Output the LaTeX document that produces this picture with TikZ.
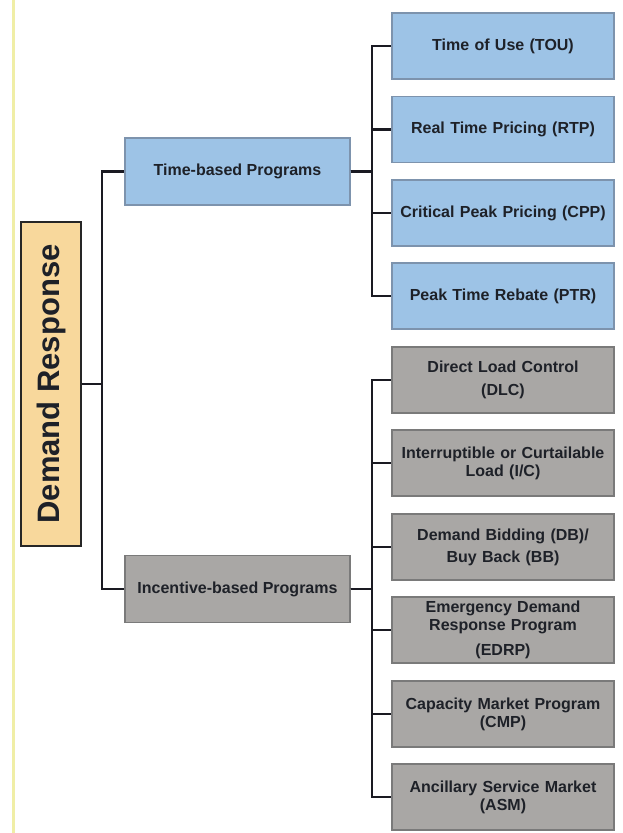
\documentclass[tikz,border=0pt]{standalone}
\usepackage{fontspec}
\setmainfont{Liberation Sans}
\usetikzlibrary{positioning,calc}
\definecolor{rootFill}{HTML}{F8D89C}
\definecolor{timeFill}{HTML}{9DC3E6}
\definecolor{incFill}{HTML}{A9A7A5}
\definecolor{timeLine}{HTML}{7D93AD}
\definecolor{incLine}{HTML}{7A7A7A}
\definecolor{linkLine}{HTML}{1A1A22}
\definecolor{edgeYellow}{HTML}{F0EEA6}
\definecolor{inkText}{HTML}{1E2128}

\begin{document}
\begin{tikzpicture}[x=1pt,y=-1pt,line width=1.3pt,
 prog/.style={minimum width=225pt,minimum height=67pt,inner sep=2pt,align=center,text=inkText,font=\fontsize{16}{18}\selectfont\bfseries},
 leaf/.style={prog,minimum width=222pt,minimum height=66pt,text width=210pt,inner xsep=6pt},
 link/.style={draw=linkLine,line width=2.2pt}]
\useasboundingbox (0,0) rectangle (623,833);
\draw[edgeYellow,line width=3pt] (13,0)--(13,833);
% root
\node[draw=black!85,line width=1.6pt,fill=rootFill,rotate=90,minimum width=324pt,minimum height=60pt,
 text=inkText,font=\fontsize{31}{31}\selectfont\bfseries] (dr) at (51,384) {Demand Response};
% program classes
\node[prog,draw=timeLine,fill=timeFill] (tbp) at (237.5,171.5) {Time-based Programs};
\node[prog,draw=incLine,fill=incFill] (ibp) at (237.5,589) {Incentive-based Programs};
% time-based leaves
\foreach \name/\yy/\lab in {tou/46/{Time of Use (TOU)},rtp/129.5/{Real Time Pricing (RTP)},
  cpp/213/{Critical Peak Pricing (CPP)},ptr/296/{Peak Time Rebate (PTR)}} {
 \node[leaf,draw=timeLine,fill=timeFill] (\name) at (503,\yy) {\lab};
 \draw[link] (tbp.east) -- ++(21,0) |- (\name.west);
}
% incentive-based leaves
\foreach \name/\yy/\lab in {dlc/380/{Direct Load Control\\[5pt](DLC)},
  ic/463/{Interruptible or Curtailable\\Load (I/C)},
  dbb/547/{Demand Bidding (DB)/\\[4pt]Buy Back (BB)},
  edrp/630/{Emergency Demand\\Response Program\\[7pt](EDRP)},
  cmp/714/{Capacity Market Program\\(CMP)},
  asm/797/{Ancillary Service Market\\(ASM)}} {
 \node[leaf,draw=incLine,fill=incFill] (\name) at (503,\yy) {\lab};
 \draw[link] (ibp.east) -- ++(21,0) |- (\name.west);
}
\draw[link] (dr.south) -- ++(20,0) |- (tbp.west);
\draw[link] (dr.south) -- ++(20,0) |- (ibp.west);
\end{tikzpicture}
\end{document}
